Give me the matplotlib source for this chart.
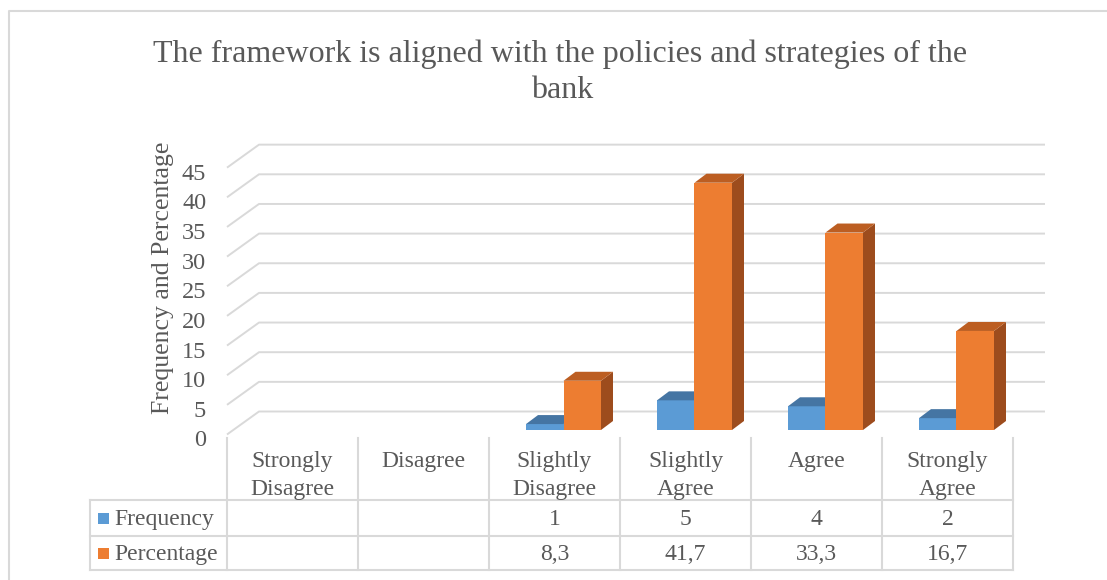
import numpy as np
import matplotlib
matplotlib.use("Agg")
import matplotlib.pyplot as plt
from matplotlib.patches import Polygon, Rectangle
from matplotlib.transforms import ScaledTranslation

# data
categories = ["Strongly\nDisagree", "Disagree", "Slightly\nDisagree",
              "Slightly\nAgree", "Agree", "Strongly\nAgree"]
frequency = [np.nan, np.nan, 1, 5, 4, 2]
percentage = [np.nan, np.nan, 8.3, 41.7, 33.3, 16.7]
series_names = ["Frequency", "Percentage"]
yticks = list(range(0, 50, 5))

title_lines = ["The framework is aligned with the policies and strategies of the", "bank"]
ylabel = "Frequency and Percentage"

# look
plt.rcParams['font.family'] = ['Liberation Serif', 'DejaVu Serif']
SERIF = ['Liberation Serif', 'DejaVu Serif']
TXT = '#595959'
GRID = '#D9D9D9'
front_col = ['#5B9BD5', '#ED7D31']
top_col = ['#4575A3', '#BC5E22']
side_col = ['#3E6894', '#9D4C1D']

W, H = 1107, 580
fig = plt.figure(figsize=(W / 100, H / 100), dpi=100)

# pixel layout axes (title, table, border)
lay = fig.add_axes([0, 0, 1, 1])
lay.set_xlim(0, W)
lay.set_ylim(H, 0)
lay.axis('off')

# plot area: front floor edge from x0 to x1, value 0 at y0
x0, x1 = 227, 1013
y0, pxu = 434.5, 5.93
ax = fig.add_axes([x0 / W, (H - y0) / H, (x1 - x0) / W, 45 * pxu / H])
n = len(categories)
ax.set_xlim(0, n)
ax.set_ylim(0, 45)
ax.patch.set_alpha(0)
for s in ax.spines.values():
    s.set_visible(False)
ax.set_xticks([])
ax.set_yticks(yticks)
ax.set_yticklabels([str(t) for t in yticks], fontfamily=SERIF, fontsize=17.5, color=TXT)
ax.tick_params(axis='y', length=0, pad=15)
off = ScaledTranslation(0, -0.04, fig.dpi_scale_trans)
for lab in ax.get_yticklabels():
    lab.set_transform(lab.get_transform() + off)

colw = (x1 - x0) / n  # px per category
# wall depth
gdx, gdy = 32 / colw, 23 / pxu
for v in yticks:
    ax.plot([0, gdx, n + gdx], [v, v + gdy, v + gdy], color=GRID, lw=1.4,
            clip_on=False, zorder=1, solid_capstyle='butt')

# bars
bw = 37.5 / colw
shx, shy = 9 / colw, 4.5 / pxu
bdx, bdy = 12 / colw, 9 / pxu
for i in range(n):
    for k, vals in enumerate([frequency, percentage]):
        v = vals[i]
        if np.isnan(v):
            continue
        xl = i + 0.5 - bw + k * bw + shx
        xr = xl + bw
        yb = shy
        yt = shy + v
        ax.add_patch(Polygon([(xl, yb), (xr, yb), (xr, yt), (xl, yt)],
                             closed=True, fc=front_col[k], ec='none', zorder=3, clip_on=False))
        ax.add_patch(Polygon([(xl, yt), (xr, yt), (xr + bdx, yt + bdy), (xl + bdx, yt + bdy)],
                             closed=True, fc=top_col[k], ec='none', zorder=3, clip_on=False))
        ax.add_patch(Polygon([(xr, yb), (xr + bdx, yb + bdy), (xr + bdx, yt + bdy), (xr, yt)],
                             closed=True, fc=side_col[k], ec='none', zorder=2.9, clip_on=False))

# title and axis label
lay.text(560, 62, title_lines[0], ha='center', va='baseline', fontsize=23, color=TXT)
lay.text(562, 98, title_lines[1], ha='center', va='baseline', fontsize=23, color=TXT)
lay.text(163, 278, ylabel, rotation=90, ha='center', va='center', fontsize=18.5, color=TXT)

# chart border (top and left visible)
lay.plot([8.5, 8.5, W], [H, 11, 11], color=GRID, lw=1.5)

# data table
rows = [500, 536, 570]
leg_x = 90
bounds = [x0 + j * colw for j in range(n + 1)]
for bx in bounds:
    lay.plot([bx, bx], [438, rows[-1]], color=GRID, lw=1.5)
lay.plot([leg_x, leg_x], [rows[0], rows[-1]], color=GRID, lw=1.5)
for ry in rows:
    lay.plot([leg_x, x1], [ry, ry], color=GRID, lw=1.5)

for i, c in enumerate(categories):
    cx = x0 + (i + 0.5) * colw
    for j, part in enumerate(c.split("\n")):
        lay.text(cx, 467 + j * 28, part, ha='center', va='baseline', fontsize=17, color=TXT)

def fmt(v):
    if np.isnan(v):
        return ""
    return f"{v:g}".replace(".", ",")

for r, (name, vals) in enumerate(zip(series_names, [frequency, percentage])):
    base = 525 + r * 35
    yc = (rows[r] + rows[r + 1]) / 2
    lay.add_patch(Rectangle((98, yc - 5.5), 11, 11, fc=front_col[r], ec='none'))
    lay.text(114, base, name, ha='left', va='baseline', fontsize=17, color=TXT)
    for i, v in enumerate(vals):
        cx = x0 + (i + 0.5) * colw
        lay.text(cx, base, fmt(v), ha='center', va='baseline', fontsize=17, color=TXT)

fig.savefig("out.png", dpi=100)
